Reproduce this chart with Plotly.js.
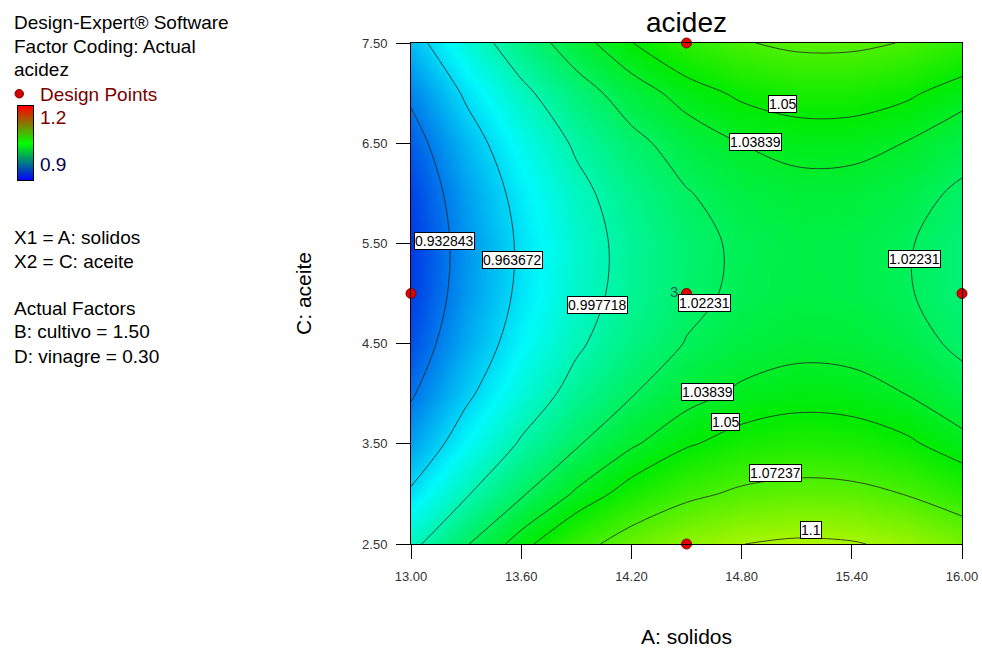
<!DOCTYPE html>
<html>
<head>
<meta charset="utf-8">
<script src="https://cdn.plot.ly/plotly-3.0.1.min.js"></script>
<style>
  html, body { margin: 0; padding: 0; background: #fff; }
  #chart { width: 982px; height: 653px; }
</style>
</head>
<body>
<div id="chart"></div>
<script>
// Factor grid: A (solidos) across, C (aceite) up
const solidos = [13.0, 13.3, 13.6, 13.9, 14.2, 14.5, 14.8, 15.1, 15.4, 15.7, 16.0];
const aceite  = [2.5, 3.0, 3.5, 4.0, 4.5, 5.0, 5.5, 6.0, 6.5, 7.0, 7.5];

// Predicted acidez, one row per aceite value (bottom to top)
const acidez = [
  [0.9921, 1.0209, 1.0453, 1.0655, 1.0812, 1.0928, 1.0998, 1.1029, 1.1015, 1.0957, 1.0857],
  [0.9667, 0.9957, 1.0203, 1.0406, 1.0565, 1.0682, 1.0755, 1.0786, 1.0773, 1.0717, 1.0618],
  [0.9462, 0.9752, 1.0000, 1.0205, 1.0365, 1.0484, 1.0558, 1.0591, 1.0579, 1.0525, 1.0427],
  [0.9304, 0.9596, 0.9845, 1.0051, 1.0213, 1.0333, 1.0409, 1.0444, 1.0434, 1.0381, 1.0285],
  [0.9195, 0.9488, 0.9739, 0.9946, 1.0110, 1.0231, 1.0309, 1.0344, 1.0336, 1.0284, 1.0190],
  [0.9133, 0.9428, 0.9680, 0.9889, 1.0054, 1.0177, 1.0256, 1.0293, 1.0286, 1.0236, 1.0143],
  [0.9119, 0.9416, 0.9669, 0.9880, 1.0046, 1.0171, 1.0251, 1.0290, 1.0284, 1.0236, 1.0144],
  [0.9154, 0.9452, 0.9707, 0.9919, 1.0087, 1.0213, 1.0295, 1.0335, 1.0331, 1.0283, 1.0193],
  [0.9236, 0.9536, 0.9792, 1.0006, 1.0175, 1.0302, 1.0386, 1.0427, 1.0425, 1.0379, 1.0291],
  [0.9367, 0.9668, 0.9925, 1.0140, 1.0311, 1.0440, 1.0525, 1.0568, 1.0567, 1.0523, 1.0436],
  [0.9545, 0.9847, 1.0107, 1.0323, 1.0496, 1.0626, 1.0712, 1.0757, 1.0757, 1.0715, 1.0629]
];

// Contour levels drawn on the surface
const levels = [0.932843, 0.963672, 0.997718, 1.02231, 1.03839, 1.05, 1.07237, 1.1];

// Design points (A, C) and replicate count at the centre point
const designA = [13.0, 16.0, 14.5, 14.5, 14.5];
const designC = [5.0, 5.0, 2.5, 7.5, 5.0];
const centerReplicates = 3;

// Colour legend range
const legendRange = [0.9, 1.2];

// Axis ticks
const xTicks = [13.0, 13.6, 14.2, 14.8, 15.4, 16.0];
const yTicks = [2.5, 3.5, 4.5, 5.5, 6.5, 7.5];

// Side panel text
const infoTop = ["Design-Expert\u00AE Software", "Factor Coding: Actual", "acidez"];
const infoFactors = ["X1 = A: solidos", "X2 = C: aceite"];
const infoActual = ["Actual Factors", "B: cultivo = 1.50", "D: vinagre = 0.30"];

// ---- layout helpers (pixel -> paper) ----
const W = 982, H = 653, MT = 43, MB = 109, MR = 20;
const PW = W - MR, PH = H - MT - MB;
const px = v => v / PW;
const py = v => (MT + PH - v) / PH;

const FONT = "Arial, 'Liberation Sans', sans-serif";

const surfaceScale = [
  [0.00, 'rgb(0,20,225)'],
  [0.25, 'rgb(0,250,250)'],
  [0.50, 'rgb(0,236,0)'],
  [0.75, 'rgb(250,250,0)'],
  [1.00, 'rgb(250,0,0)']
];
const legendScale = [
  [0.0, 'rgb(0,0,255)'],
  [0.5, 'rgb(0,255,0)'],
  [1.0, 'rgb(255,0,0)']
];

const traces = [];

// smooth colour fill
traces.push({
  type: 'heatmap',
  x: solidos, y: aceite, z: acidez,
  zsmooth: 'best',
  colorscale: surfaceScale,
  zmin: legendRange[0], zmax: legendRange[1],
  showscale: false,
  hoverinfo: 'skip'
});

// one line trace per contour level
levels.forEach(L => {
  traces.push({
    type: 'contour',
    x: solidos, y: aceite, z: acidez,
    autocontour: false,
    contours: { start: L, end: L, size: 1, coloring: 'none', showlabels: false },
    line: { color: '#222', width: 0.8, smoothing: 1 },
    showscale: false,
    hoverinfo: 'skip'
  });
});

// design points
traces.push({
  type: 'scatter', mode: 'markers',
  x: designA, y: designC,
  marker: { size: 10, color: '#e00000', line: { color: '#8a0000', width: 1 } },
  cliponaxis: false,
  hoverinfo: 'skip'
});

// colour legend bar
traces.push({
  type: 'heatmap',
  xaxis: 'x2', yaxis: 'y2',
  x: [0, 1], y: legendRange,
  z: [[legendRange[0], legendRange[0]], [legendRange[1], legendRange[1]]],
  zsmooth: 'best',
  colorscale: legendScale,
  zmin: legendRange[0], zmax: legendRange[1],
  showscale: false,
  hoverinfo: 'skip'
});

// contour label placements (level index, A, C)
const labelSpots = [
  [0, 13.185, 5.524],
  [1, 13.550, 5.334],
  [2, 14.013, 4.885],
  [3, 14.600, 4.905],
  [3, 15.739, 5.344],
  [5, 15.025, 6.891],
  [4, 14.873, 6.512],
  [4, 14.617, 4.017],
  [5, 14.715, 3.717],
  [6, 14.982, 3.209],
  [7, 15.178, 2.640]
];

const annotations = labelSpots.map(([i, a, c]) => ({
  xref: 'x', yref: 'y', x: a, y: c,
  text: String(levels[i]),
  showarrow: false,
  bgcolor: '#fff', bordercolor: '#000', borderwidth: 1, borderpad: 0,
  font: { family: FONT, size: 14, color: '#000' }
}));

// replicate count beside the centre point
annotations.push({
  xref: 'x', yref: 'y', x: designA[4], y: designC[4],
  xshift: -13, yshift: 2,
  text: String(centerReplicates), showarrow: false,
  font: { family: FONT, size: 15, color: '#2f5858' }
});

// side panel
const lineAnn = (text, xPix, yPix, color) => ({
  xref: 'paper', yref: 'paper', x: px(xPix), y: py(yPix),
  xanchor: 'left', yanchor: 'middle', showarrow: false,
  text, font: { family: FONT, size: 19, color: color || '#000' }
});
infoTop.forEach((t, k) => annotations.push(lineAnn(t, 12, 22 + k * 24)));
annotations.push(lineAnn('Design Points', 38, 95, '#7a0000'));
annotations.push(lineAnn(String(legendRange[1]), 38, 118, '#7a0000'));
annotations.push(lineAnn(String(legendRange[0]), 38, 164, '#000050'));
infoFactors.forEach((t, k) => annotations.push(lineAnn(t, 12, 238 + k * 23)));
infoActual.forEach((t, k) => annotations.push(lineAnn(t, 12, 308 + k * 24)));

const shapes = [{
  type: 'circle', xref: 'paper', yref: 'paper',
  x0: px(15), x1: px(23.5), y0: py(98), y1: py(89.5),
  fillcolor: '#d00000', line: { color: '#8a0000', width: 1 }
}];

const layout = {
  width: W, height: H,
  margin: { l: 0, r: MR, t: MT, b: MB, pad: 0 },
  paper_bgcolor: '#fff', plot_bgcolor: '#fff',
  showlegend: false,
  font: { family: FONT, color: '#000' },
  title: {
    text: 'acidez',
    xref: 'paper', x: px(686.5), xanchor: 'center',
    yref: 'container', y: 1 - 22 / H, yanchor: 'middle',
    font: { family: FONT, size: 28, color: '#000' }
  },
  xaxis: {
    domain: [px(411), 1],
    range: [13, 16],
    tickvals: xTicks, tickformat: '.2f',
    ticks: 'outside', ticklen: 14, tickcolor: '#000', tickwidth: 1,
    ticklabelstandoff: 6,
    tickfont: { family: FONT, size: 13, color: '#333' },
    showline: true, mirror: true, linecolor: '#000', linewidth: 1,
    showgrid: false, zeroline: false,
    title: { text: 'A: solidos', standoff: 46, font: { family: FONT, size: 21, color: '#000' } }
  },
  yaxis: {
    range: [2.5, 7.5],
    tickvals: yTicks, tickformat: '.2f',
    ticks: 'outside', ticklen: 14, tickcolor: '#000', tickwidth: 1,
    ticklabelstandoff: 6,
    tickfont: { family: FONT, size: 13, color: '#333' },
    showline: true, mirror: true, linecolor: '#000', linewidth: 1,
    showgrid: false, zeroline: false,
    title: { text: 'C: aceite', standoff: 44, font: { family: FONT, size: 21, color: '#000' } }
  },
  xaxis2: {
    domain: [px(18), px(33)], anchor: 'y2', range: [0, 1],
    showticklabels: false, ticks: '', showgrid: false, zeroline: false,
    showline: true, mirror: true, linecolor: '#000', linewidth: 1
  },
  yaxis2: {
    domain: [py(180), py(106)], anchor: 'x2', range: legendRange,
    showticklabels: false, ticks: '', showgrid: false, zeroline: false,
    showline: true, mirror: true, linecolor: '#000', linewidth: 1
  },
  annotations, shapes
};

Plotly.newPlot('chart', traces, layout, { staticPlot: true, displayModeBar: false });
</script>
</body>
</html>
